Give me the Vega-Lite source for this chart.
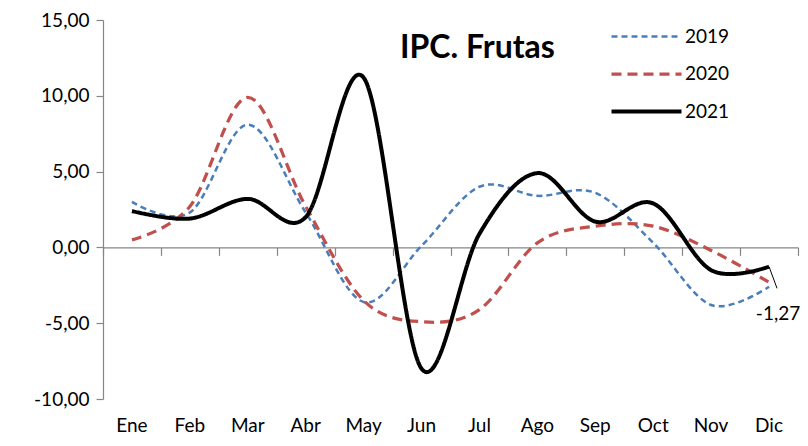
{
  "$schema": "https://vega.github.io/schema/vega-lite/v6.json",
  "width": 695,
  "height": 379,
  "autosize": {"type": "none"},
  "padding": {"left": 103, "top": 20, "right": 10, "bottom": 47},
  "background": "white",
  "title": {
    "text": "IPC. Frutas",
    "font": "Lato",
    "fontSize": 32,
    "fontWeight": "bold",
    "color": "#000000",
    "anchor": "middle",
    "frame": "group",
    "orient": "top",
    "offset": -54,
    "dx": 27
  },
  "data": {
    "values": [
      {"month": "Ene", "year": "2019", "value": 3.0},
      {"month": "Feb", "year": "2019", "value": 2.3},
      {"month": "Mar", "year": "2019", "value": 8.1},
      {"month": "Abr", "year": "2019", "value": 2.3},
      {"month": "May", "year": "2019", "value": -3.6},
      {"month": "Jun", "year": "2019", "value": 0.1},
      {"month": "Jul", "year": "2019", "value": 4.0},
      {"month": "Ago", "year": "2019", "value": 3.4},
      {"month": "Sep", "year": "2019", "value": 3.6},
      {"month": "Oct", "year": "2019", "value": 0.3},
      {"month": "Nov", "year": "2019", "value": -3.8},
      {"month": "Dic", "year": "2019", "value": -2.6},
      {"month": "Ene", "year": "2020", "value": 0.5},
      {"month": "Feb", "year": "2020", "value": 2.7},
      {"month": "Mar", "year": "2020", "value": 9.9},
      {"month": "Abr", "year": "2020", "value": 2.7},
      {"month": "May", "year": "2020", "value": -3.5},
      {"month": "Jun", "year": "2020", "value": -4.9},
      {"month": "Jul", "year": "2020", "value": -4.1},
      {"month": "Ago", "year": "2020", "value": 0.3},
      {"month": "Sep", "year": "2020", "value": 1.4},
      {"month": "Oct", "year": "2020", "value": 1.4},
      {"month": "Nov", "year": "2020", "value": -0.2},
      {"month": "Dic", "year": "2020", "value": -2.3},
      {"month": "Ene", "year": "2021", "value": 2.4},
      {"month": "Feb", "year": "2021", "value": 1.9},
      {"month": "Mar", "year": "2021", "value": 3.2},
      {"month": "Abr", "year": "2021", "value": 2.0},
      {"month": "May", "year": "2021", "value": 11.2},
      {"month": "Jun", "year": "2021", "value": -8.0},
      {"month": "Jul", "year": "2021", "value": 0.9},
      {"month": "Ago", "year": "2021", "value": 4.9},
      {"month": "Sep", "year": "2021", "value": 1.7},
      {"month": "Oct", "year": "2021", "value": 2.9},
      {"month": "Nov", "year": "2021", "value": -1.5},
      {"month": "Dic", "year": "2021", "value": -1.27}
    ]
  },
  "resolve": {"axis": {"x": "independent"}},
  "layer": [
    {
      "mark": {"type": "line", "interpolate": "cardinal"},
      "encoding": {
        "x": {
          "field": "month", "type": "ordinal",
          "sort": ["Ene","Feb","Mar","Abr","May","Jun","Jul","Ago","Sep","Oct","Nov","Dic"],
          "scale": {"type": "band", "paddingInner": 0, "paddingOuter": 0},
          "axis": {"orient": "bottom", "offset": -151.6, "labels": false, "ticks": true, "tickBand": "extent", "tickSize": 8, "domain": true, "title": null}
        },
        "y": {
          "field": "value", "type": "quantitative",
          "scale": {"domain": [-10, 15], "nice": false, "zero": false},
          "axis": {"values": [-10, -5, 0, 5, 10, 15], "format": ".2f", "title": null, "grid": false, "tickSize": 7, "labelPadding": 7}
        },
        "color": {
          "field": "year", "type": "nominal",
          "scale": {"domain": ["2019","2020","2021"], "range": ["#4A7EBB", "#C0504D", "#000000"]},
          "legend": {"title": null, "orient": "none", "legendX": 534, "legendY": 7, "symbolType": "M-5,0H5", "symbolSize": 196, "symbolFillColor": "transparent", "labelFontSize": 19, "labelFont": "Lato", "labelColor": "#000000", "rowPadding": 17.5, "labelOffset": 29, "padding": 0}
        },
        "strokeDash": {
          "field": "year", "type": "nominal",
          "scale": {"domain": ["2019","2020","2021"], "range": [[6,4],[10,6],[1,0]]},
          "legend": {"title": null, "orient": "none", "legendX": 534, "legendY": 7, "symbolType": "M-5,0H5", "symbolSize": 196, "symbolFillColor": "transparent", "labelFontSize": 19, "labelFont": "Lato", "labelColor": "#000000", "rowPadding": 17.5, "labelOffset": 29, "padding": 0}
        },
        "strokeWidth": {
          "field": "year", "type": "nominal",
          "scale": {"domain": ["2019","2020","2021"], "range": [2.5, 4, 4.5]},
          "legend": {"title": null, "orient": "none", "legendX": 534, "legendY": 7, "symbolType": "M-5,0H5", "symbolSize": 196, "symbolFillColor": "transparent", "labelFontSize": 19, "labelFont": "Lato", "labelColor": "#000000", "rowPadding": 17.5, "labelOffset": 29, "padding": 0}
        }
      }
    },
    {
      "transform": [{"filter": "datum.year == '2021' && datum.month == 'Dic'"}],
      "mark": {"type": "text", "font": "Lato", "fontSize": 19, "color": "#000000", "align": "center", "baseline": "alphabetic", "dx": 9, "dy": 53},
      "encoding": {
        "x": {
          "field": "month", "type": "ordinal",
          "sort": ["Ene","Feb","Mar","Abr","May","Jun","Jul","Ago","Sep","Oct","Nov","Dic"],
          "axis": {"orient": "bottom", "domain": false, "ticks": false, "labels": true, "labelPadding": 17, "title": null, "labelAngle": 0}
        },
        "y": {"field": "value", "type": "quantitative"},
        "text": {"field": "value", "type": "quantitative", "format": ".2f"}
      }
    },
    {
      "transform": [{"filter": "datum.year == '2021' && datum.month == 'Dic'"}],
      "mark": {"type": "rule", "color": "#000000", "strokeWidth": 1, "x2Offset": 8},
      "encoding": {
        "x": {"field": "month", "type": "ordinal", "sort": ["Ene","Feb","Mar","Abr","May","Jun","Jul","Ago","Sep","Oct","Nov","Dic"], "axis": null},
        "x2": {"field": "month"},
        "y": {"field": "value", "type": "quantitative"},
        "y2": {"datum": -2.7}
      }
    }
  ],
  "config": {
    "locale": {"number": {"decimal": ",", "thousands": ".", "grouping": [3], "currency": ["", " €"], "minus": "-"}},
    "view": {"stroke": null},
    "axis": {
      "labelFont": "Lato", "labelFontSize": 19, "labelColor": "#000000",
      "domainColor": "#868686", "tickColor": "#868686", "domainWidth": 1.2, "tickWidth": 1.2, "grid": false, "title": null
    },
    "line": {"strokeCap": "butt"}
  }
}
